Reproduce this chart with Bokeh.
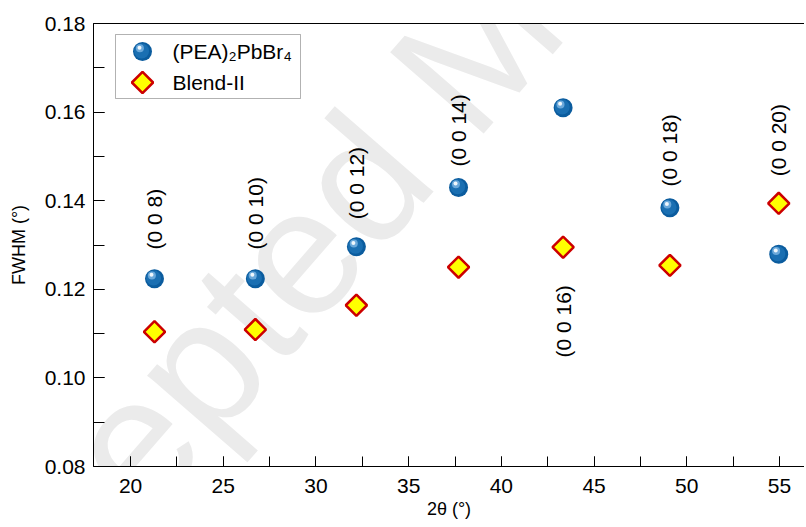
import math
from bokeh.plotting import figure
from bokeh.models import (ColumnDataSource, LinearAxis, FixedTicker, SingleIntervalTicker,
                          NumeralTickFormatter, Label, Range1d, BoxAnnotation)
from bokeh.transform import dodge
from bokeh.core.properties import value
from bokeh.embed import file_html
from bokeh.resources import INLINE

# ---- data ----
two_theta = [21.29, 26.73, 32.18, 37.69, 43.33, 49.09, 54.96]
fwhm_pea = [0.1224, 0.1224, 0.1296, 0.1430, 0.1610, 0.1384, 0.1279]
fwhm_blend = [0.1104, 0.1109, 0.1164, 0.1250, 0.1295, 0.1254, 0.1394]
hkl_labels = ["(0 0 8)", "(0 0 10)", "(0 0 12)", "(0 0 14)", "(0 0 16)", "(0 0 18)", "(0 0 20)"]
label_y = [0.1290, 0.1290, 0.1358, 0.1477, 0.1046, 0.1432, 0.1455]
series_names = ["(PEA)₂PbBr₄", "Blend-II"]
x_ticks_interval = 5
y_ticks_interval = 0.02

FONT = "Liberation Sans"
FRAME_W, FRAME_H = 711, 443
BLUE_LAYERS = [  # (size, dx_px, dy_px, color)
    (19, 0.0, 0.0, "#0b5c9e"),
    (15, -0.9, 0.6, "#1a6fb2"),
    (8, -2.6, 3.2, "#6aa8da"),
    (4, -3.0, 3.8, "#f0f7fc"),
]

src = ColumnDataSource(dict(x=two_theta, pea=fwhm_pea, blend=fwhm_blend))
lab = ColumnDataSource(dict(x=two_theta, y=label_y, t=hkl_labels))

p = figure(width=804, height=525, x_range=(18, 56.35), y_range=(0.08, 0.18),
           output_backend="svg", toolbar_location=None,
           min_border_left=93, min_border_right=0, min_border_top=23, min_border_bottom=59)
p.grid.visible = False
p.outline_line_color = None
p.background_fill_color = "white"
p.border_fill_color = "white"

# pixel-space ranges of the frame, for the hand-made legend
p.extra_x_ranges = {"px": Range1d(0, FRAME_W)}
p.extra_y_ranges = {"py": Range1d(0, FRAME_H)}
xpx = (56.35 - 18) / FRAME_W   # data units per pixel
ypx = (0.18 - 0.08) / FRAME_H

# watermark
wm = Label(x=7.65, y=0.0255, text="Accepted Manuscript", angle=math.radians(49),
           text_font=FONT, text_font_size="180px", text_color="#ebebeb",
           text_align="left", text_baseline="alphabetic", level="underlay")
p.add_layout(wm)

# axes styling
for ax in (p.xaxis[0], p.yaxis[0]):
    ax.axis_line_color = "black"
    ax.axis_line_width = 1
    ax.major_tick_line_color = "black"
    ax.minor_tick_line_color = "black"
    ax.major_tick_out = 0
    ax.minor_tick_out = 0
    ax.major_label_text_font = FONT
    ax.major_label_text_font_size = "21px"
    ax.major_label_text_color = "black"
    ax.axis_label_text_font = FONT
    ax.axis_label_text_font_style = "normal"
    ax.axis_label_text_font_size = "18px"
    ax.axis_label_text_color = "black"

p.xaxis.ticker = SingleIntervalTicker(interval=x_ticks_interval, num_minor_ticks=2)
p.yaxis.ticker = SingleIntervalTicker(interval=y_ticks_interval, num_minor_ticks=2)
p.yaxis.formatter = NumeralTickFormatter(format="0.00")
p.xaxis.major_tick_in = 10
p.xaxis.minor_tick_in = 10
p.yaxis.major_tick_in = 11
p.yaxis.minor_tick_in = 11
p.xaxis.major_label_standoff = 12
p.yaxis.major_label_standoff = 8
p.xaxis.axis_label = "2θ (°)"
p.yaxis.axis_label = "FWHM (°)"
p.xaxis.axis_label_standoff = 3
p.yaxis.axis_label_standoff = 13

top = LinearAxis(ticker=FixedTicker(ticks=[]), axis_line_color="black", axis_line_width=1,
                 major_tick_line_color=None, minor_tick_line_color=None,
                 major_label_text_font_size="0px")
p.add_layout(top, "above")

# spheres (PEA)2PbBr4
for size, dx, dy, col in BLUE_LAYERS:
    p.scatter(dodge("x", dx * xpx), dodge("pea", dy * ypx), source=src, marker="circle",
              size=size, fill_color=col, line_color=None)

# diamonds Blend-II
p.scatter("x", "blend", source=src, marker="square", angle=math.pi / 4, size=15,
          fill_color="#ffff00", line_color="#cc0000", line_width=2.5)

# hkl labels
p.text(x="x", y="y", text="t", source=lab, angle=math.pi / 2, text_align="left",
       text_baseline="middle", text_font=value(FONT), text_font_size="21px", text_color="black")

# ---- legend (drawn in frame pixel space) ----
box = BoxAnnotation(left=22, right=207, top=432, bottom=368, x_range_name="px", y_range_name="py",
                    fill_color="white", fill_alpha=1, line_color="black", line_width=1,
                    level="underlay")
p.add_layout(box)
leg_x, leg_y1, leg_y2, txt_x = 49, 415, 384, 79
for size, dx, dy, col in BLUE_LAYERS:
    p.scatter(x=[leg_x + dx], y=[leg_y1 + dy], x_range_name="px", y_range_name="py",
              marker="circle", size=size, fill_color=col, line_color=None)
p.scatter(x=[leg_x], y=[leg_y2], x_range_name="px", y_range_name="py", marker="square",
          angle=math.pi / 4, size=15, fill_color="#ffff00", line_color="#cc0000", line_width=2.5)
p.text(x=[txt_x, txt_x], y=[leg_y1, leg_y2], text=series_names, x_range_name="px",
       y_range_name="py", text_align="left", text_baseline="middle",
       text_font=value(FONT), text_font_size="21px", text_color="black")

open("out.html", "w").write(file_html(p, INLINE))
